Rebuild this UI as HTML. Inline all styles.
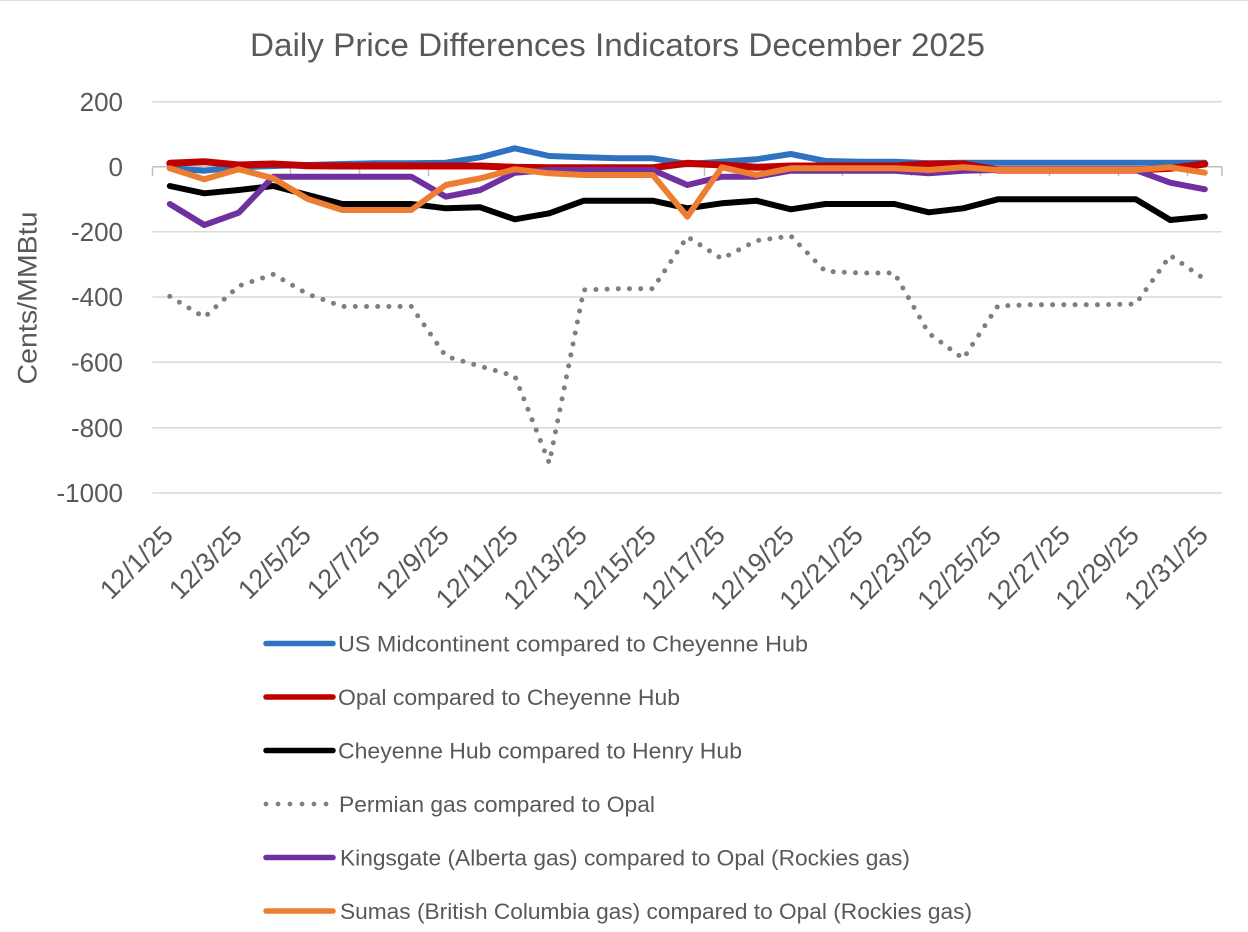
<!DOCTYPE html>
<html>
<head>
<meta charset="utf-8">
<style>
  html, body { margin: 0; padding: 0; background: #ffffff; }
  body { width: 1248px; height: 932px; overflow: hidden; }
  svg { display: block; }
  text { font-family: "Liberation Sans", Arial, sans-serif; fill: #595959; }
</style>
</head>
<body>
<svg width="1248" height="932" viewBox="0 0 1248 932" xmlns="http://www.w3.org/2000/svg">
  <rect x="0" y="0" width="1248" height="932" fill="#ffffff"/>
  <line x1="0" y1="0.5" x2="1248" y2="0.5" stroke="#e0e0e0" stroke-width="1"/>

  <!-- Title -->
  <text x="250" y="56" font-size="32" textLength="735" lengthAdjust="spacingAndGlyphs">Daily Price Differences Indicators December 2025</text>

  <!-- Gridlines -->
  <g stroke="#d9d9d9" stroke-width="1.5">
    <line x1="152.5" y1="101.7" x2="1222" y2="101.7"/>
    <line x1="152.5" y1="231.7" x2="1222" y2="231.7"/>
    <line x1="152.5" y1="297" x2="1222" y2="297"/>
    <line x1="152.5" y1="362.3" x2="1222" y2="362.3"/>
    <line x1="152.5" y1="427.7" x2="1222" y2="427.7"/>
    <line x1="152.5" y1="493" x2="1222" y2="493"/>
  </g>
  <!-- X axis line at 0 and ticks -->
  <g stroke="#bfbfbf" stroke-width="1.5">
    <line x1="152.5" y1="166.7" x2="1222" y2="166.7"/>
    <line x1="152.5" y1="166.7" x2="152.5" y2="176"/>
    <line x1="221.5" y1="166.7" x2="221.5" y2="176"/>
    <line x1="290.5" y1="166.7" x2="290.5" y2="176"/>
    <line x1="359.5" y1="166.7" x2="359.5" y2="176"/>
    <line x1="428.5" y1="166.7" x2="428.5" y2="176"/>
    <line x1="497.5" y1="166.7" x2="497.5" y2="176"/>
    <line x1="566.5" y1="166.7" x2="566.5" y2="176"/>
    <line x1="635.5" y1="166.7" x2="635.5" y2="176"/>
    <line x1="704.5" y1="166.7" x2="704.5" y2="176"/>
    <line x1="773.5" y1="166.7" x2="773.5" y2="176"/>
    <line x1="842.5" y1="166.7" x2="842.5" y2="176"/>
    <line x1="911.5" y1="166.7" x2="911.5" y2="176"/>
    <line x1="980.5" y1="166.7" x2="980.5" y2="176"/>
    <line x1="1049.5" y1="166.7" x2="1049.5" y2="176"/>
    <line x1="1118.5" y1="166.7" x2="1118.5" y2="176"/>
    <line x1="1187.5" y1="166.7" x2="1187.5" y2="176"/>
    <line x1="1222" y1="166.7" x2="1222" y2="176"/>
  </g>

  <!-- Y tick labels -->
  <g font-size="26" text-anchor="end">
    <text x="123" y="111">200</text>
    <text x="123" y="176">0</text>
    <text x="123" y="241">-200</text>
    <text x="123" y="306">-400</text>
    <text x="123" y="371.5">-600</text>
    <text x="123" y="437">-800</text>
    <text x="123" y="502">-1000</text>
  </g>

  <!-- Y axis title -->
  <text transform="translate(36.5,298) rotate(-90)" font-size="27" text-anchor="middle" textLength="173" lengthAdjust="spacingAndGlyphs">Cents/MMBtu</text>

  <!-- X tick labels -->
  <g font-size="27" text-anchor="end">
    <text transform="translate(174.8,537) rotate(-45)">12/1/25</text>
    <text transform="translate(243.8,537) rotate(-45)">12/3/25</text>
    <text transform="translate(312.8,537) rotate(-45)">12/5/25</text>
    <text transform="translate(381.8,537) rotate(-45)">12/7/25</text>
    <text transform="translate(450.8,537) rotate(-45)">12/9/25</text>
    <text transform="translate(519.8,537) rotate(-45)">12/11/25</text>
    <text transform="translate(588.8,537) rotate(-45)">12/13/25</text>
    <text transform="translate(657.8,537) rotate(-45)">12/15/25</text>
    <text transform="translate(726.8,537) rotate(-45)">12/17/25</text>
    <text transform="translate(795.8,537) rotate(-45)">12/19/25</text>
    <text transform="translate(864.8,537) rotate(-45)">12/21/25</text>
    <text transform="translate(933.8,537) rotate(-45)">12/23/25</text>
    <text transform="translate(1002.8,537) rotate(-45)">12/25/25</text>
    <text transform="translate(1071.8,537) rotate(-45)">12/27/25</text>
    <text transform="translate(1140.8,537) rotate(-45)">12/29/25</text>
    <text transform="translate(1209.8,537) rotate(-45)">12/31/25</text>
  </g>

  <!-- Series -->
  <g fill="none" stroke-linejoin="round" stroke-linecap="round">
    <!-- US Midcontinent (blue) -->
    <polyline stroke="#2E72C0" stroke-width="6" points="169.8,168.3 204.3,170.7 238.8,167.3 273.3,166 307.8,165 342.3,164 376.8,163.3 411.3,163.3 445.8,162.7 480.3,157.3 514.8,148.3 549.3,156 583.8,157.3 618.3,158.3 652.8,158.3 687.3,164 721.8,161.7 756.3,159.3 790.8,154 825.3,161 859.8,161.7 894.3,161.7 928.8,163.3 963.3,162.7 997.8,162.7 1032.3,162.7 1066.8,162.7 1101.3,162.7 1135.8,162.7 1170.3,162.7 1204.8,162.7"/>
    <!-- Opal vs Cheyenne (red) -->
    <polyline stroke="#C00000" stroke-width="7" points="169.8,163.3 204.3,161.7 238.8,165 273.3,164 307.8,165.7 342.3,166 376.8,166 411.3,166 445.8,166 480.3,166 514.8,167.3 549.3,167.7 583.8,167.7 618.3,167.7 652.8,167.7 687.3,163.3 721.8,165 756.3,167.3 790.8,166 825.3,166 859.8,166 894.3,166 928.8,164 963.3,164 997.8,170 1032.3,170 1066.8,170 1101.3,170 1135.8,170 1170.3,168.3 1204.8,164"/>
    <!-- Cheyenne vs Henry Hub (black) -->
    <polyline stroke="#000000" stroke-width="6" points="169.8,186 204.3,193.3 238.8,190 273.3,186 307.8,195 342.3,204 376.8,204 411.3,204 445.8,208.3 480.3,207.3 514.8,219.3 549.3,213.3 583.8,200.7 618.3,200.7 652.8,200.7 687.3,208.3 721.8,203.3 756.3,200.7 790.8,209.3 825.3,204 859.8,204 894.3,204 928.8,212.3 963.3,208.3 997.8,199.3 1032.3,199.3 1066.8,199.3 1101.3,199.3 1135.8,199.3 1170.3,220 1204.8,216.7"/>
    <!-- Permian (gray dotted) -->
    <polyline stroke="#7f7f7f" stroke-width="5" stroke-dasharray="0 11.2" points="169.8,296.4 204.3,317.3 238.8,286 273.3,274.3 307.8,294.1 342.3,306.5 376.8,306.5 411.3,306.5 445.8,356.2 480.3,366.3 514.8,376.1 549.3,463 583.8,289.9 618.3,288.7 652.8,288.7 687.3,236.7 721.8,258.7 756.3,240.7 790.8,236 825.3,271.3 859.8,273 894.3,273 928.8,333.3 963.3,358.6 997.8,306 1032.3,304.7 1066.8,304.7 1101.3,304.7 1135.8,304 1170.3,255.5 1204.8,279.3"/>
    <!-- Kingsgate (purple) -->
    <polyline stroke="#7030A0" stroke-width="6" points="169.8,204 204.3,225 238.8,212.7 273.3,176.7 307.8,176.7 342.3,176.7 376.8,176.7 411.3,176.7 445.8,196.7 480.3,190 514.8,172.7 549.3,170 583.8,170 618.3,170 652.8,170 687.3,185 721.8,176.7 756.3,176.7 790.8,170.7 825.3,170.7 859.8,170.7 894.3,170.7 928.8,173.3 963.3,170.7 997.8,170 1032.3,170 1066.8,170 1101.3,170 1135.8,170 1170.3,182.7 1204.8,189.3"/>
    <!-- Sumas (orange) -->
    <polyline stroke="#ED7D31" stroke-width="6" points="169.8,168.3 204.3,179.3 238.8,169.3 273.3,178.3 307.8,199 342.3,210 376.8,210 411.3,210 445.8,185 480.3,178.3 514.8,169.3 549.3,173.3 583.8,175 618.3,175 652.8,175 687.3,216.7 721.8,167.3 756.3,175 790.8,168.3 825.3,168.3 859.8,168.3 894.3,168.3 928.8,170 963.3,167.3 997.8,170 1032.3,170 1066.8,170 1101.3,170 1135.8,170 1170.3,167.3 1204.8,172.7"/>
  </g>

  <!-- Legend -->
  <g stroke-linecap="round" fill="none">
    <line x1="266" y1="643.5" x2="333" y2="643.5" stroke="#2E72C0" stroke-width="5.5"/>
    <line x1="266" y1="697" x2="333" y2="697" stroke="#C00000" stroke-width="5.5"/>
    <line x1="266" y1="750.5" x2="333" y2="750.5" stroke="#000000" stroke-width="5.5"/>
    <line x1="266" y1="804" x2="327" y2="804" stroke="#7f7f7f" stroke-width="4.8" stroke-dasharray="0 12"/>
    <line x1="266" y1="857.5" x2="333" y2="857.5" stroke="#7030A0" stroke-width="5.5"/>
    <line x1="266" y1="911" x2="333" y2="911" stroke="#ED7D31" stroke-width="5.5"/>
  </g>
  <g font-size="22">
    <text x="338" y="651.5" textLength="470" lengthAdjust="spacingAndGlyphs">US Midcontinent compared to Cheyenne Hub</text>
    <text x="338" y="705" textLength="342" lengthAdjust="spacingAndGlyphs">Opal compared to Cheyenne Hub</text>
    <text x="338" y="758.5" textLength="404" lengthAdjust="spacingAndGlyphs">Cheyenne Hub compared to Henry Hub</text>
    <text x="339" y="812" textLength="316" lengthAdjust="spacingAndGlyphs">Permian gas compared to Opal</text>
    <text x="340" y="865.5" textLength="570" lengthAdjust="spacingAndGlyphs">Kingsgate (Alberta gas) compared to Opal (Rockies gas)</text>
    <text x="340" y="919" textLength="632" lengthAdjust="spacingAndGlyphs">Sumas (British Columbia gas) compared to Opal (Rockies gas)</text>
  </g>
</svg>
</body>
</html>
